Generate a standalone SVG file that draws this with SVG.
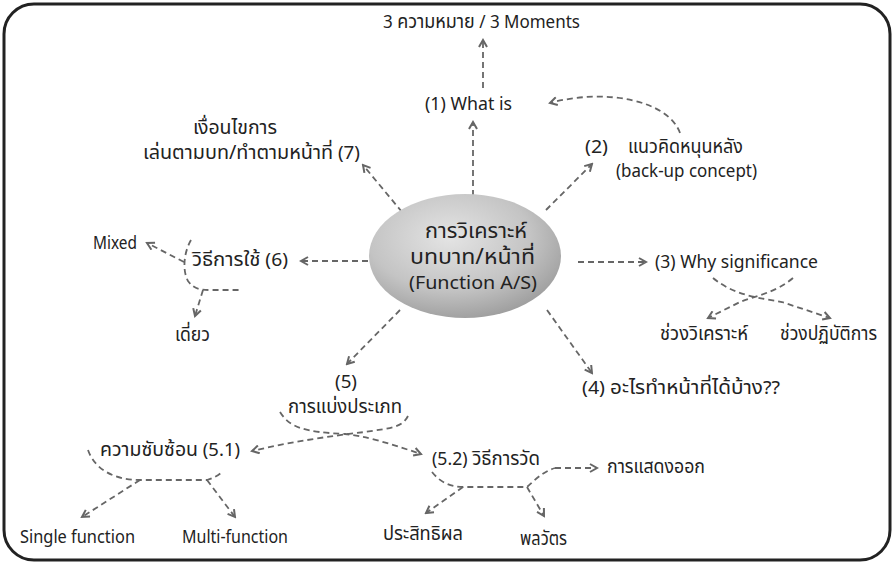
<svg xmlns="http://www.w3.org/2000/svg" width="894" height="564" viewBox="0 0 894 564">
  <defs>
    <radialGradient id="bulb" cx="0.42" cy="0.35" r="0.7">
      <stop offset="0" stop-color="#e4e4e4"/>
      <stop offset="0.6" stop-color="#c4c4c4"/>
      <stop offset="1" stop-color="#9a9a9a"/>
    </radialGradient>
    <marker id="arr" viewBox="0 0 10 10" refX="8" refY="5" markerWidth="10" markerHeight="10" markerUnits="userSpaceOnUse" orient="auto">
      <path d="M1,1 L8,5 L1,9" fill="none" stroke="#666" stroke-width="2" stroke-linejoin="miter"/>
    </marker>
    <style>
      text { font-family: "Noto Sans", "Noto Sans Thai", "DejaVu Sans", sans-serif; font-size: 18px; fill: #222; }
      .th { font-size: 19px; }
      .hub { font-size: 21px; }
      .hub .th { font-size: 21px; }
      .ln { fill: none; stroke: #666; stroke-width: 1.8; stroke-dasharray: 6 4; }
      .ar { marker-end: url(#arr); }
    </style>
  </defs>

  <rect x="4" y="4" width="886" height="556" rx="30" ry="30" fill="#fff" stroke="#222" stroke-width="3"/>

  <!-- connectors -->
  <g id="connectors">
    <path class="ln ar" d="M473,196 L473,122"/>
    <path class="ln ar" d="M483,88 L483,40"/>
    <path class="ln ar" d="M680,133 C668,100 605,88 550,103"/>
    <path class="ln ar" d="M546,210 L592,164"/>
    <path class="ln ar" d="M578,262 L646,262"/>
    <path class="ln ar" d="M713,278 C735,296 760,298 782,302 L830,318"/>
    <path class="ln ar" d="M793,278 C775,293 755,296 740,302 L708,318"/>
    <path class="ln ar" d="M547,310 L592,373"/>
    <path class="ln ar" d="M400,310 L347,364"/>
    <path class="ln ar" d="M280,412 C290,428 305,432 345,434 C365,436 385,442 421,454"/>
    <path class="ln ar" d="M408,416 C402,428 390,428 365,432 C330,436 290,442 252,451"/>
    <path class="ln" d="M88,450 C95,470 115,480 140,480 L207,480 C213,478 218,476 222,472"/>
    <path class="ln ar" d="M140,480 L82,517"/>
    <path class="ln ar" d="M207,480 L235,517"/>
    <path class="ln" d="M432,472 C440,482 450,487 463,487 L527,487 C535,480 542,472 555,468"/>
    <path class="ln ar" d="M555,468 L597,468"/>
    <path class="ln ar" d="M463,487 L426,513"/>
    <path class="ln ar" d="M527,487 L544,516"/>
    <path class="ln ar" d="M368,261 L301,261"/>
    <path class="ln" d="M191,240 C184,252 182,270 188,281 C194,289 200,290 210,290 L241,290"/>
    <path class="ln ar" d="M184,262 L147,243"/>
    <path class="ln ar" d="M203,290 L195,316"/>
    <path class="ln ar" d="M402,212 L363,165"/>
  </g>

  <!-- centre -->
  <g id="hub" class="hub">
    <ellipse cx="465" cy="256" rx="96" ry="62" fill="url(#bulb)"/>
    <text x="425" y="238" textLength="102" lengthAdjust="spacingAndGlyphs"><tspan class="th">การวิเคราะห์</tspan></text>
    <text x="410" y="264" textLength="125" lengthAdjust="spacingAndGlyphs"><tspan class="th">บทบาท/หน้าที่</tspan></text>
    <text x="409" y="289" textLength="128" lengthAdjust="spacingAndGlyphs">(Function A/S)</text>
  </g>

  <g id="moments"><text x="383" y="28" textLength="197" lengthAdjust="spacingAndGlyphs">3 <tspan class="th">ความหมาย</tspan> / 3 Moments</text></g>
  <g id="n1"><text x="425" y="110" textLength="87" lengthAdjust="spacingAndGlyphs">(1) What is</text></g>
  <g id="n2">
    <text x="585" y="153" textLength="23" lengthAdjust="spacingAndGlyphs">(2)</text>
    <text class="th" x="628" y="153" textLength="115" lengthAdjust="spacingAndGlyphs">แนวคิดหนุนหลัง</text>
    <text x="616" y="177" textLength="141" lengthAdjust="spacingAndGlyphs">(back-up concept)</text>
  </g>
  <g id="n3"><text x="655" y="268" textLength="163" lengthAdjust="spacingAndGlyphs">(3)  Why significance</text></g>
  <g id="n3a"><text class="th" x="660" y="340" textLength="88" lengthAdjust="spacingAndGlyphs">ช่วงวิเคราะห์</text></g>
  <g id="n3b"><text class="th" x="780" y="340" textLength="97" lengthAdjust="spacingAndGlyphs">ช่วงปฏิบัติการ</text></g>
  <g id="n4"><text x="582" y="394" textLength="198" lengthAdjust="spacingAndGlyphs">(4)  <tspan class="th">อะไรทำหน้าที่ได้บ้าง</tspan>??</text></g>
  <g id="n5">
    <text x="335" y="388" textLength="22" lengthAdjust="spacingAndGlyphs">(5)</text>
    <text class="th" x="288" y="413" textLength="114" lengthAdjust="spacingAndGlyphs">การแบ่งประเภท</text>
  </g>
  <g id="n51"><text x="100" y="456" textLength="140" lengthAdjust="spacingAndGlyphs"><tspan class="th">ความซับซ้อน</tspan> (5.1)</text></g>
  <g id="n51a"><text x="20" y="543" textLength="115" lengthAdjust="spacingAndGlyphs">Single function</text></g>
  <g id="n51b"><text x="182" y="543" textLength="106" lengthAdjust="spacingAndGlyphs">Multi-function</text></g>
  <g id="n52"><text x="432" y="465" textLength="108" lengthAdjust="spacingAndGlyphs">(5.2) <tspan class="th">วิธีการวัด</tspan></text></g>
  <g id="n52a"><text class="th" x="607" y="473" textLength="98" lengthAdjust="spacingAndGlyphs">การแสดงออก</text></g>
  <g id="n52b"><text class="th" x="383" y="540" textLength="80" lengthAdjust="spacingAndGlyphs">ประสิทธิผล</text></g>
  <g id="n52c"><text class="th" x="520" y="545" textLength="47" lengthAdjust="spacingAndGlyphs">พลวัตร</text></g>
  <g id="n6"><text x="192" y="266" textLength="96" lengthAdjust="spacingAndGlyphs"><tspan class="th">วิธีการใช้</tspan>  (6)</text></g>
  <g id="n6a"><text x="93" y="249" textLength="44" lengthAdjust="spacingAndGlyphs">Mixed</text></g>
  <g id="n6b"><text class="th" x="175" y="341" textLength="35" lengthAdjust="spacingAndGlyphs">เดี่ยว</text></g>
  <g id="n7">
    <text class="th" x="193" y="134" textLength="84" lengthAdjust="spacingAndGlyphs">เงื่อนไขการ</text>
    <text x="143" y="159" textLength="217" lengthAdjust="spacingAndGlyphs"><tspan class="th">เล่นตามบท/ทำตามหน้าที่</tspan>  (7)</text>
  </g>
</svg>
